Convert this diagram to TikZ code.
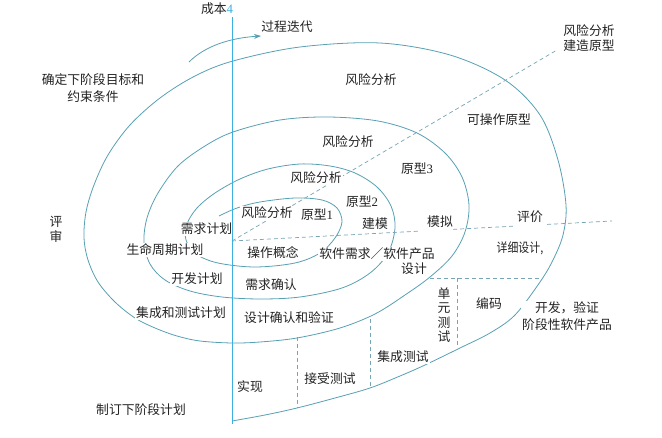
\documentclass[tikz,border=0pt]{standalone}
\usepackage{fontspec}
\usepackage{graphicx}
\setmainfont{Liberation Serif}
\newfontfamily\cjk{Noto Sans CJK SC}
\usetikzlibrary{arrows.meta,calc}
\definecolor{spiral}{RGB}{88,160,180}
\definecolor{axisc}{RGB}{60,175,225}
\definecolor{dashc}{RGB}{120,165,180}
\definecolor{txt}{RGB}{35,35,35}
\begin{document}
\begin{tikzpicture}[x=1pt,y=-1pt,
  lbl/.style={font=\cjk\fontsize{12.8}{14}\selectfont, text=txt, inner sep=1pt, fill=white},
  lbltwo/.style={lbl, align=center, font=\cjk\fontsize{12.8}{17}\selectfont},
  lblvert/.style={lbl, align=center, font=\cjk\fontsize{12.8}{14.5}\selectfont},
  spiralline/.style={draw=spiral, line width=0.8pt},
  dashline/.style={draw=dashc, line width=0.7pt, dash pattern=on 4pt off 3pt},
  axisline/.style={draw=axisc, line width=0.9pt},
  iterarrow/.style={draw=spiral, line width=0.8pt, -{Stealth[length=7pt,width=5pt]}}
]
\useasboundingbox (0,0) rectangle (662,438);
\fill[white] (0,0) rectangle (662,438);

% spiral
\draw[spiralline] plot[smooth, tension=0.55] coordinates {
(219,216) (237,208) (260,202) (295,198) (322,200) (337,208) (342,222) (335,238)
(320,253) (295,263) (255,267) (218,263) (196,254) (186,240) (187,224) (197,208)
(215,193) (240,179) (268,169) (300,164) (330,166) (355,173) (377,187) (391,206)
(395,228) (388,253) (370,273) (342,288) (300,297) (260,299) (222,297) (190,291)
(165,280) (150,264) (144,242) (147,218) (158,193) (178,166) (205,146) (233,132)
(280,120) (328,117) (378,121) (417,133) (445,153) (462,177) (469,205) (465,232)
(452,256) (430,277) (405,295) (375,314) (340,328) (297,338) (260,342) (232,343)
(200,341) (177,336) (155,328) (135,318) (115,302) (98,282) (88,260) (84,238)
(86,212) (94,185) (108,155) (130,125) (160,98) (195,76) (233,61) (300,47)
(380,43) (450,55) (505,80) (540,115) (558,160) (566,205) (563,235) (553,260)
(540,282) (515,315) (490,333) (460,348) (425,365) (400,376) (370,388) (335,398)
(297,408) (265,415) (232,421)};

% dashed lines
\coordinate (o) at (232,241);
\coordinate (he) at (612,221);
\coordinate (de) at (557,50);
\draw[dashline] (o) -- ($(o)!0.495!(he)$);
\draw[dashline] ($(o)!0.582!(he)$) -- ($(o)!0.739!(he)$);
\draw[dashline] ($(o)!0.829!(he)$) -- (he);
\draw[dashline] (o) -- (de);
\coordinate (v1t) at (297,337); \coordinate (v1b) at (297,408);
\coordinate (v2t) at (370,319); \coordinate (v2b) at (370,388);
\coordinate (v3t) at (457,278); \coordinate (v3b) at (457,348);
\coordinate (hl) at (430,278); \coordinate (hr) at (540,278);
\draw[dashline] (v1t) -- (v1b);
\draw[dashline] (v2t) -- (v2b);
\draw[dashline] (v3t) -- (v3b);
\draw[dashline] (hl) -- (hr);

% iteration arrow
\coordinate (itail) at (189,62);
\coordinate (ihead) at (261,36);
\draw[iterarrow] (itail) .. controls (205,46) and (230,38) .. (ihead);

% labels
\node[lbl, fill=none] (cost) at (217,9) {成本{\rmfamily\color{axisc}4}};
\node[lbl] (iter) at (287,27) {过程迭代};
\node[lbltwo] (goal) at (93,88.5) {确定下阶段目标和\\约束条件};
\node[lbl] (ra4) at (371,80) {风险分析};
\node[lbltwo, font=\cjk\fontsize{12.8}{15}\selectfont] (rabp) at (589,38.5) {风险分析\\建造原型};
\node[lbl] (op) at (499,120) {可操作原型};
\node[lbl] (ra3) at (348,142) {风险分析};
\node[lbl] (p3) at (417,169) {原型{\rmfamily 3}};
\node[lbl] (ra2) at (316,178) {风险分析};
\node[lbl] (p2) at (362,202) {原型{\rmfamily 2}};
\node[lbl] (ra1) at (267,213) {风险分析};
\node[lbl] (p1) at (317,215) {原型{\rmfamily 1}};
\node[lbl] (jm) at (375,224) {建模};
\node[lbl] (mn) at (440,222) {模拟};
\node[lbl] (pj) at (530,217) {评价};
\node[lbl] (xq) at (206.5,229) {需求计划};
\node[lbl] (smzq) at (165,250) {生命周期计划};
\node[lbl] (czgn) at (273,253) {操作概念};
\node[lbl] (rjxq) at (377,254) {软件需求／软件产品};
\node[lbl] (sj) at (414,269) {设计};
\node[lbl] (xxsj) at (520,248) {\scalebox{0.85}[1]{详细设计,}};
\node[lbl] (kfjh) at (197,279) {开发计划};
\node[lbl] (xqqr) at (271,285) {需求确认};
\node[lbl] (jccs) at (181,313) {集成和测试计划};
\node[lbl] (sjqr) at (289,318) {设计确认和验证};
\node[lbl] (sx) at (250,387) {实现};
\node[lbl] (jscs) at (330,379) {接受测试};
\node[lbl] (jcts) at (403,357) {集成测试};
\node[lblvert] (dycs) at (444,315) {单\\元\\测\\试};
\node[lbl] (bm) at (489,304) {编码};
\node[lbltwo] (kfyz) at (567,316.5) {开发，验证\\阶段性软件产品};
\node[lbl] (zd) at (141,410) {制订下阶段计划};
\node[lblvert, font=\cjk\fontsize{12.8}{15}\selectfont] (ps) at (56,229) {评\\审};

% cost axis on top
\coordinate (axtop) at (232,17);
\coordinate (axbot) at (232,424);
\draw[axisline] (axtop) -- (axbot);
\end{tikzpicture}
\end{document}
